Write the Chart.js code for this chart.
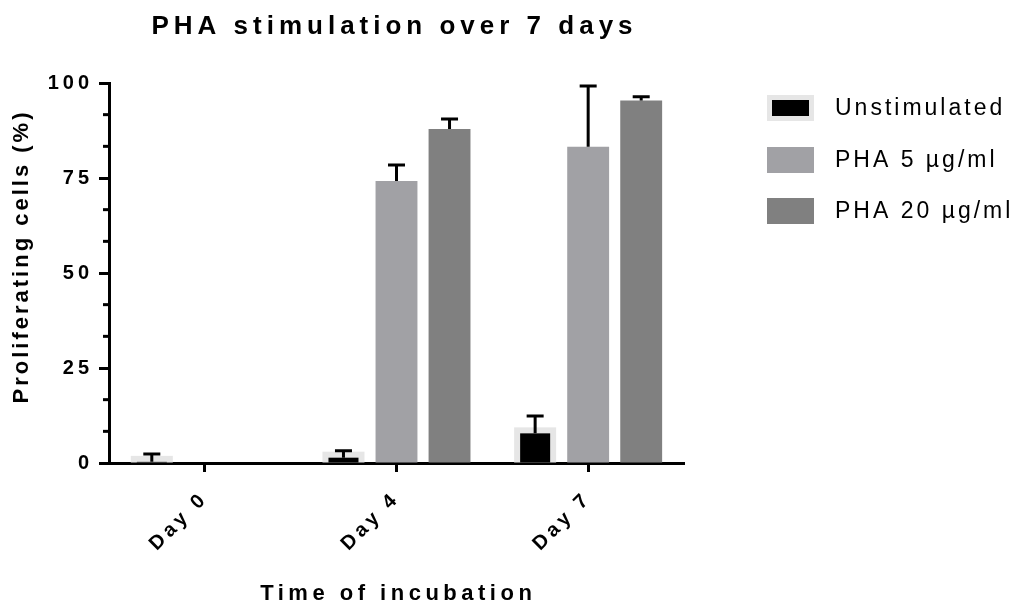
<!DOCTYPE html>
<html>
<head>
<meta charset="utf-8">
<script src="https://cdn.jsdelivr.net/npm/chart.js"></script>
<style>
    body { margin: 0; background: #fff; }
    #wrap { width: 1030px; height: 607px; position: relative; }
</style>
</head>
<body>
<div id="wrap"><canvas id="barChart"></canvas></div>
<script>
    // Chart data
    const dayLabels = ["Day 0", "Day 4", "Day 7"];
    const seriesNames = ["Unstimulated", "PHA 5 µg/ml", "PHA 20 µg/ml"];
    const unstimValues = [0.3, 1.4, 7.8];
    const unstimErrors = [2.1, 1.8, 4.6];
    const pha5Values = [null, 74.2, 83.2];
    const pha5Errors = [null, 4.2, 16.0];
    const pha20Values = [null, 87.9, 95.4];
    const pha20Errors = [null, 2.6, 1.0];
    const yMajorTicks = [0, 25, 50, 75, 100];
    const yMinorTicks = [8.33, 16.67, 33.33, 41.67, 58.33, 66.67, 83.33, 91.67];

    const COLORS = {
        unstim: "#000000",
        halo: "#e6e6e6",
        pha5: "#a1a1a5",
        pha20: "#808080",
    };

    const FONT = "'Liberation Sans', Arial, sans-serif";
    Chart.defaults.font.family = FONT;
    Chart.defaults.color = "#000";

    const errorSets = [unstimErrors, pha5Errors, pha20Errors];

    // draws text with canvas letter spacing
    function spacedText(ctx, text, x, y, font, spacing, angle) {
        ctx.save();
        ctx.translate(x, y);
        if (angle) ctx.rotate(angle);
        ctx.font = font;
        ctx.letterSpacing = spacing + "px";
        ctx.fillStyle = "#000";
        ctx.textAlign = "center";
        ctx.textBaseline = "middle";
        ctx.fillText(text, spacing / 2, 0);
        ctx.restore();
    }

    const figurePlugin = {
        id: "figure",
        beforeDraw(chart) {
            // spaced-out tick labels like the original export
            chart.ctx.letterSpacing = "4px";
        },
        beforeDatasetDraw(chart, args) {
            if (args.index !== 0) return;
            // light grey halo around the unstimulated bars
            const ctx = chart.ctx;
            ctx.save();
            ctx.fillStyle = COLORS.halo;
            args.meta.data.forEach((bar) => {
                if (bar.y == null || isNaN(bar.y)) return;
                const half = bar.width / 2 + 6;
                ctx.fillRect(bar.x - half, bar.y - 6, half * 2, bar.base - bar.y + 6);
            });
            ctx.restore();
        },
        afterDatasetsDraw(chart) {
            const ctx = chart.ctx;
            const yScale = chart.scales.y;
            ctx.save();
            ctx.strokeStyle = "#000";
            ctx.lineWidth = 3;
            chart.data.datasets.forEach((ds, i) => {
                const meta = chart.getDatasetMeta(i);
                meta.data.forEach((bar, j) => {
                    const v = ds.data[j];
                    const err = errorSets[i][j];
                    if (v == null || err == null) return;
                    const top = yScale.getPixelForValue(v + err);
                    ctx.beginPath();
                    ctx.moveTo(bar.x, bar.y);
                    ctx.lineTo(bar.x, top);
                    ctx.moveTo(bar.x - 8.5, top);
                    ctx.lineTo(bar.x + 8.5, top);
                    ctx.stroke();
                });
            });
            ctx.restore();
        },
        afterDraw(chart) {
            const ctx = chart.ctx;
            const area = chart.chartArea;
            const yScale = chart.scales.y;

            // minor ticks on the y axis
            ctx.save();
            ctx.strokeStyle = "#000";
            ctx.lineWidth = 3;
            yMinorTicks.forEach((v) => {
                const py = yScale.getPixelForValue(v);
                ctx.beginPath();
                ctx.moveTo(area.left - 6, py);
                ctx.lineTo(area.left, py);
                ctx.stroke();
            });
            ctx.restore();

            // titles
            spacedText(ctx, "PHA stimulation over 7 days", 392, 27, "bold 26px " + FONT, 5);
            spacedText(ctx, "Time of incubation", 396, 594, "bold 22px " + FONT, 4.5);
            spacedText(ctx, "Proliferating cells (%)", 22, 258, "bold 22px " + FONT, 3, -Math.PI / 2);

            // legend
            const rows = [108, 160, 211];
            chart.data.datasets.forEach((ds, i) => {
                const cy = rows[i];
                if (i === 0) {
                    ctx.fillStyle = COLORS.halo;
                    ctx.fillRect(767, cy - 13, 47, 26);
                    ctx.fillStyle = COLORS.unstim;
                    ctx.fillRect(772, cy - 8, 37, 16);
                } else {
                    ctx.fillStyle = ds.backgroundColor;
                    ctx.fillRect(767, cy - 13, 47, 26);
                }
                ctx.save();
                ctx.font = "23px " + FONT;
                ctx.letterSpacing = "3px";
                ctx.fillStyle = "#000";
                ctx.textAlign = "left";
                ctx.textBaseline = "middle";
                ctx.fillText(ds.label, 835, cy + 1);
                ctx.restore();
            });
        },
    };

    const canvas = document.getElementById("barChart");
    const chart = new Chart(canvas, {
        type: "bar",
        data: {
            labels: dayLabels,
            datasets: [
                {
                    label: seriesNames[0],
                    data: unstimValues,
                    backgroundColor: COLORS.unstim,
                    barPercentage: 0.566,
                },
                {
                    label: seriesNames[1],
                    data: pha5Values,
                    backgroundColor: COLORS.pha5,
                },
                {
                    label: seriesNames[2],
                    data: pha20Values,
                    backgroundColor: COLORS.pha20,
                },
            ],
        },
        options: {
            responsive: true,
            maintainAspectRatio: false,
            animation: false,
            categoryPercentage: 0.83,
            barPercentage: 0.79,
            layout: {
                padding: { left: 0, right: 346, top: 83, bottom: 0 },
            },
            plugins: {
                legend: { display: false },
                title: { display: false },
                tooltip: { enabled: false },
            },
            scales: {
                x: {
                    afterFit: (s) => { s.height = 144; },
                    border: { display: true, width: 3, color: "#000" },
                    grid: {
                        offset: false,
                        drawOnChartArea: false,
                        tickLength: 9,
                        tickWidth: 3,
                        tickColor: "#000",
                    },
                    ticks: {
                        minRotation: 45,
                        maxRotation: 45,
                        padding: 15,
                        font: { size: 20, weight: "bold" },
                    },
                },
                y: {
                    min: 0,
                    max: 100,
                    afterFit: (s) => { s.width = 109; },
                    afterBuildTicks: (s) => {
                        s.ticks = yMajorTicks.map((v) => ({ value: v }));
                    },
                    border: { display: true, width: 3, color: "#000" },
                    grid: {
                        drawOnChartArea: false,
                        tickLength: 10,
                        tickWidth: 3,
                        tickColor: "#000",
                    },
                    ticks: {
                        padding: 6,
                        font: { size: 20, weight: "bold" },
                    },
                },
            },
        },
        plugins: [figurePlugin],
    });
</script>
</body>
</html>
